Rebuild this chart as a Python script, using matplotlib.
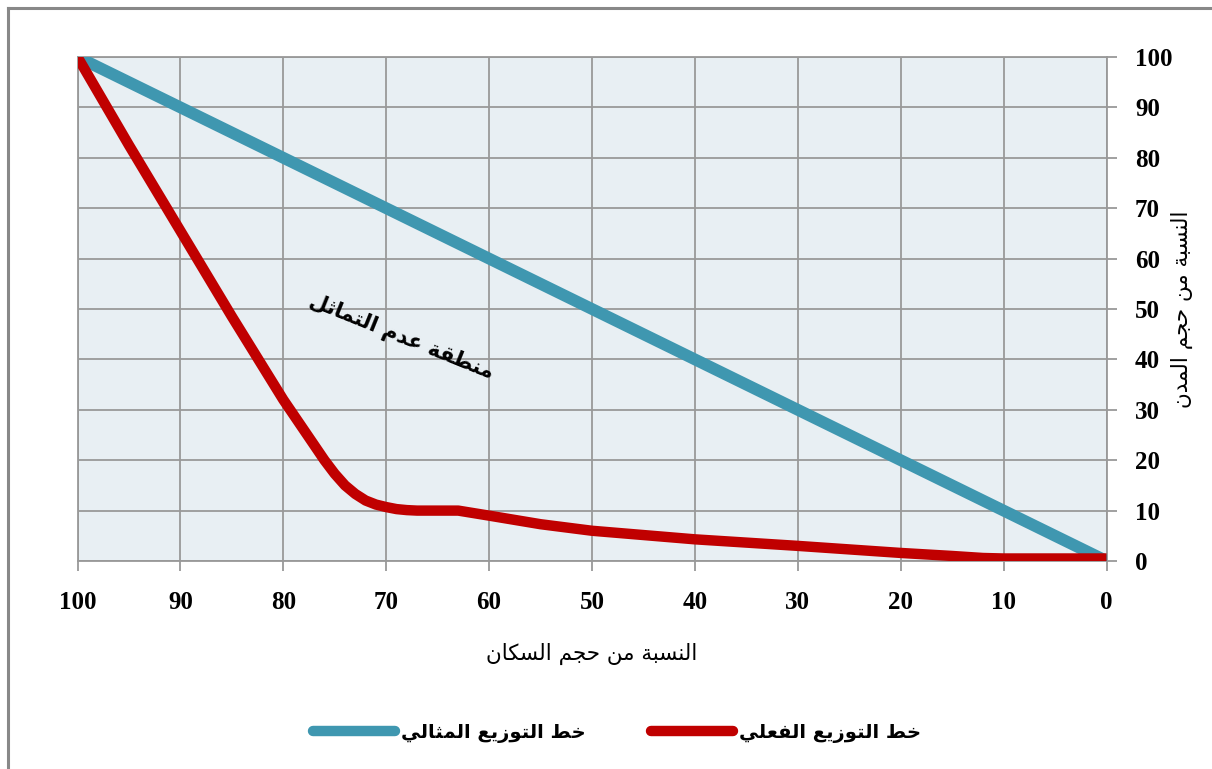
import matplotlib
matplotlib.use("Agg")
import matplotlib.pyplot as plt
from matplotlib.lines import Line2D

# data
population_pct = [100, 95, 90, 85, 80, 79, 78, 77, 76, 75, 74, 73, 72, 71, 70, 69, 68,
                  67, 63, 60, 55, 50, 40, 30, 20, 15, 12, 10, 0]
actual_pct = [100, 82.5, 65.5, 48.5, 32, 29, 26, 23, 20, 17.3, 15, 13.3, 12, 11.2, 10.7,
              10.3, 10.1, 10, 10, 9, 7.3, 6, 4.3, 3, 1.6, 1, 0.6, 0.5, 0.5]
ideal_x = [100, 0]
ideal_y = [100, 0]
ticks = [0, 10, 20, 30, 40, 50, 60, 70, 80, 90, 100]

xlabel_text = "النسبة من حجم السكان"
ylabel_text = "النسبة من حجم المدن"
zone_text = "منطقة عدم التماثل"
ideal_label = "خط التوزيع المثالي"
actual_label = "خط التوزيع الفعلي"

# matplotlib does no Arabic shaping, so map letters to presentation forms
# (isolated, final, initial, medial) and reverse to visual order
FORMS = {
    "ا": (0xFE8D, 0xFE8E, None, None),
    "ب": (0xFE8F, 0xFE90, 0xFE91, 0xFE92),
    "ة": (0xFE93, 0xFE94, None, None),
    "ت": (0xFE95, 0xFE96, 0xFE97, 0xFE98),
    "ث": (0xFE99, 0xFE9A, 0xFE9B, 0xFE9C),
    "ج": (0xFE9D, 0xFE9E, 0xFE9F, 0xFEA0),
    "ح": (0xFEA1, 0xFEA2, 0xFEA3, 0xFEA4),
    "خ": (0xFEA5, 0xFEA6, 0xFEA7, 0xFEA8),
    "د": (0xFEA9, 0xFEAA, None, None),
    "ز": (0xFEAF, 0xFEB0, None, None),
    "س": (0xFEB1, 0xFEB2, 0xFEB3, 0xFEB4),
    "ط": (0xFEC1, 0xFEC2, 0xFEC3, 0xFEC4),
    "ع": (0xFEC9, 0xFECA, 0xFECB, 0xFECC),
    "ف": (0xFED1, 0xFED2, 0xFED3, 0xFED4),
    "ق": (0xFED5, 0xFED6, 0xFED7, 0xFED8),
    "ك": (0xFED9, 0xFEDA, 0xFEDB, 0xFEDC),
    "ل": (0xFEDD, 0xFEDE, 0xFEDF, 0xFEE0),
    "م": (0xFEE1, 0xFEE2, 0xFEE3, 0xFEE4),
    "ن": (0xFEE5, 0xFEE6, 0xFEE7, 0xFEE8),
    "و": (0xFEED, 0xFEEE, None, None),
    "ي": (0xFEF1, 0xFEF2, 0xFEF3, 0xFEF4),
}


def shape(text):
    out = []
    for i, c in enumerate(text):
        if c not in FORMS:
            out.append(c)
            continue
        forms = FORMS[c]
        prev = text[i - 1] if i > 0 else ""
        nxt = text[i + 1] if i < len(text) - 1 else ""
        joins_prev = prev in FORMS and FORMS[prev][2] is not None
        joins_next = forms[2] is not None and nxt in FORMS
        if joins_prev and joins_next:
            code = forms[3]
        elif joins_prev:
            code = forms[1]
        elif joins_next:
            code = forms[2]
        else:
            code = forms[0]
        out.append(chr(code))
    return "".join(reversed(out))


BLUE = "#3F97B0"
RED = "#C00000"
GRID = "#999999"

fig = plt.figure(figsize=(12.12, 7.69), dpi=100)
ax = fig.add_axes([77.5 / 1212, 1 - 561 / 769, 1029 / 1212, 504 / 769])
ax.set_facecolor("#E8EFF3")

ax.plot(ideal_x, ideal_y, color=BLUE, lw=8.5, solid_capstyle="round", zorder=3)
ax.plot(population_pct, actual_pct, color=RED, lw=7.5, solid_capstyle="butt",
        solid_joinstyle="round", zorder=4)

ax.set_xlim(100, 0)
ax.set_ylim(0, 100)
ax.set_xticks(ticks)
ax.set_yticks(ticks)
ax.grid(True, color=GRID, lw=1.3)
ax.set_axisbelow(True)
for s in ax.spines.values():
    s.set_color(GRID)
    s.set_linewidth(1.3)

ax.yaxis.tick_right()
ax.yaxis.set_label_position("right")
ax.tick_params(axis="both", colors=GRID, length=7.5, width=1.3)
ax.tick_params(axis="x", pad=14)
ax.tick_params(axis="y", pad=13)
for lab in ax.get_xticklabels() + ax.get_yticklabels():
    lab.set_fontfamily("Liberation Serif")
    lab.set_fontweight("bold")
    lab.set_fontsize(18)
    lab.set_color("black")

ax.set_xlabel(shape(xlabel_text), fontsize=15.5, family="DejaVu Sans")
ax.xaxis.set_label_coords(0.5, -0.163)
ax.set_ylabel(shape(ylabel_text), fontsize=15.5, family="DejaVu Sans", rotation=90)
ax.yaxis.set_label_coords(1.063, 0.5)

ax.text(68.5, 44.5, shape(zone_text), fontsize=15, fontweight="bold",
        family="DejaVu Sans", rotation=-22, ha="center", va="center", zorder=5)

handles = [
    Line2D([], [], color=BLUE, lw=7.5, solid_capstyle="round"),
    Line2D([], [], color=RED, lw=7.5, solid_capstyle="round"),
]
fig.legend(handles, [shape(ideal_label), shape(actual_label)],
           loc="center", bbox_to_anchor=(617 / 1212, 1 - 733 / 769), ncol=2,
           frameon=False, handlelength=4.2, handletextpad=0.3, columnspacing=3.4,
           prop={"family": "DejaVu Sans", "weight": "bold", "size": 14})

# outer frame visible on the left and top of the reference
fig.add_artist(Line2D([8 / 1212, 8 / 1212], [0, 1 - 8 / 769], color="#888888",
                      lw=2.2, transform=fig.transFigure))
fig.add_artist(Line2D([8 / 1212, 1], [1 - 8 / 769, 1 - 8 / 769], color="#888888",
                      lw=2.2, transform=fig.transFigure))

fig.savefig("out.png", dpi=100)
